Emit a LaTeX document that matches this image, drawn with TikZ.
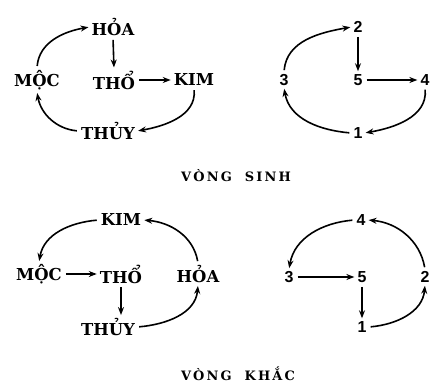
\documentclass[tikz,border=0pt]{standalone}
\usepackage{fontspec}
\setmainfont{DejaVu Serif}[BoldFont={DejaVu Serif Bold}]
\newfontfamily\numfont{Liberation Sans}
\usetikzlibrary{arrows.meta}
\begin{document}
\begin{tikzpicture}[x=1bp,y=-1bp,
  word/.style={font=\fontsize{16.5}{18}\selectfont\bfseries, inner sep=2bp},
  num/.style={font=\fontsize{16}{18}\selectfont\numfont\bfseries, inner sep=2bp},
  title/.style={font=\fontsize{13}{15}\selectfont\bfseries},
  arr/.style={line width=1.6bp, -{Stealth[length=8bp,width=6bp]}, shorten <=2bp, shorten >=1bp}]
\useasboundingbox (0,0) rectangle (432,385);

% ---- generating cycle, elements ----
\node[word] (hoa1) at (113,27) {HỎA};
\node[word] (moc1) at (37,80) {MỘC};
\node[word] (tho1) at (114,80) {THỔ};
\node[word] (kim1) at (194,80) {KIM};
\node[word] (thuy1) at (108,131) {THỦY};
\draw[arr] (moc1.north) to[out=85,in=190] (hoa1.west);
\draw[arr] (hoa1.south) -- (tho1.north);
\draw[arr] (tho1.east) -- (kim1.west);
\draw[arr] (kim1.south) to[out=-85,in=10] (thuy1.east);
\draw[arr] (thuy1.west) to[out=175,in=-80] (moc1.south);

% ---- generating cycle, numbers ----
\node[num] (n2) at (358,27) {2};
\node[num] (n5) at (358,80) {5};
\node[num] (n3) at (284,80) {3};
\node[num] (n4) at (425,80) {4};
\node[num] (n1) at (358,133) {1};
\draw[arr] (n3.north) to[out=85,in=190] (n2.west);
\draw[arr] (n2.south) -- (n5.north);
\draw[arr] (n5.east) -- (n4.west);
\draw[arr] (n4.south) to[out=-85,in=10] (n1.east);
\draw[arr] (n1.west) to[out=175,in=-80] (n3.south);

\node[title] (t1) at (236,176) {V\,Ò\,N\,G\quad S\,I\,N\,H};

% ---- controlling cycle, elements ----
\node[word] (kim2) at (121,220) {KIM};
\node[word] (moc2) at (39,274) {MỘC};
\node[word] (tho2) at (121,274) {THỔ};
\node[word] (hoa2) at (198,274) {HỎA};
\node[word] (thuy2) at (108,327) {THỦY};
\draw[arr] (kim2.west) to[out=185,in=80] (moc2.north);
\draw[arr] (hoa2.north) to[out=100,in=-5] (kim2.east);
\draw[arr] (moc2.east) -- (tho2.west);
\draw[arr] (tho2.south) -- (thuy2.north -| tho2.south);
\draw[arr] (thuy2.east) to[out=5,in=-95] (hoa2.south);

% ---- controlling cycle, numbers ----
\node[num] (m4) at (361,220) {4};
\node[num] (m3) at (289,277) {3};
\node[num] (m5) at (362,277) {5};
\node[num] (m2) at (425,277) {2};
\node[num] (m1) at (362,327) {1};
\draw[arr] (m4.west) to[out=185,in=80] (m3.north);
\draw[arr] (m2.north) to[out=100,in=-5] (m4.east);
\draw[arr] (m3.east) -- (m5.west);
\draw[arr] (m5.south) -- (m1.north);
\draw[arr] (m1.east) to[out=5,in=-95] (m2.south);

\node[title] (t2) at (238,374) {V\,Ò\,N\,G\quad K\,H\,Ắ\,C};
\end{tikzpicture}
\end{document}
